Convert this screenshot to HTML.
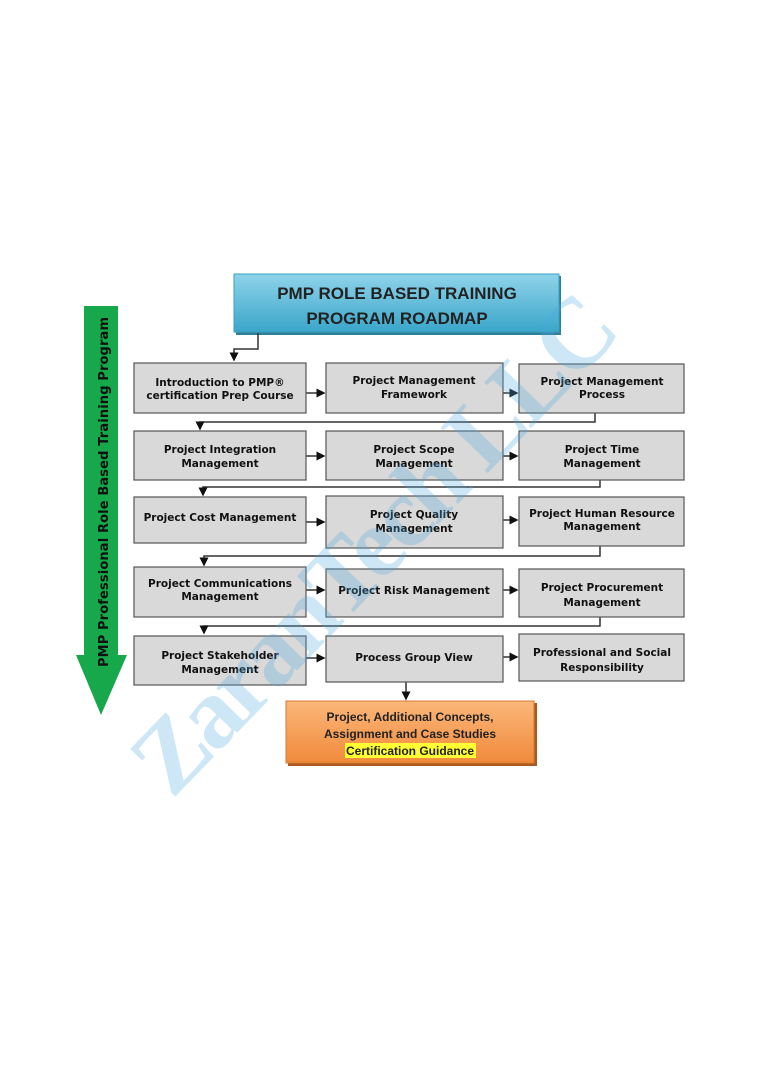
<!DOCTYPE html>
<html><head><meta charset="utf-8"><style>
body{margin:0;background:#fff;}
svg text{font-family:"DejaVu Sans","Liberation Sans",sans-serif;font-weight:bold;}
</style></head><body>
<svg width="768" height="1087" viewBox="0 0 768 1087" xmlns="http://www.w3.org/2000/svg">
<defs>
<linearGradient id="tg" x1="0" y1="0" x2="0" y2="1"><stop offset="0" stop-color="#8fd3ea"/><stop offset="1" stop-color="#3aa6c9"/></linearGradient>
<linearGradient id="og" x1="0" y1="0" x2="0" y2="1"><stop offset="0" stop-color="#fbb77b"/><stop offset="1" stop-color="#f08a3a"/></linearGradient>
<marker id="a" markerWidth="6" markerHeight="6" refX="5" refY="3" orient="auto"><path d="M0,0 L6,3 L0,6z" fill="#111"/></marker>
</defs>
<polygon points="84,306 118,306 118,655 127,655 101,715 76,655 84,655" fill="#16a84a"/>
<text transform="translate(108,667) rotate(-90)" font-size="13" fill="#111" textLength="350">PMP Professional Role Based Training Program</text>
<rect x="236" y="276" width="325" height="59" fill="#2f7f99"/>
<rect x="234" y="274" width="325" height="58" fill="url(#tg)" stroke="#3aa0c0"/>
<text x="397" y="299" font-size="17" text-anchor="middle" fill="#222" style="font-family:'Liberation Sans',sans-serif">PMP ROLE BASED TRAINING</text>
<text x="397" y="324" font-size="17" text-anchor="middle" fill="#222" style="font-family:'Liberation Sans',sans-serif">PROGRAM ROADMAP</text>
<g stroke="#333" stroke-width="1.5" fill="none">
<polyline points="258,333 258,349 234,349 234,360" marker-end="url(#a)"/>
<polyline points="595,413 595,422 200,422 200,429" marker-end="url(#a)"/>
<polyline points="600,480 600,487 203,487 203,495" marker-end="url(#a)"/>
<polyline points="600,546 600,556 204,556 204,565" marker-end="url(#a)"/>
<polyline points="600,617 600,626 204,626 204,633" marker-end="url(#a)"/>
<line x1="306" y1="393" x2="324" y2="393" marker-end="url(#a)"/>
<line x1="503" y1="393" x2="517" y2="393" marker-end="url(#a)"/>
<line x1="306" y1="456" x2="324" y2="456" marker-end="url(#a)"/>
<line x1="503" y1="456" x2="517" y2="456" marker-end="url(#a)"/>
<line x1="306" y1="522" x2="324" y2="522" marker-end="url(#a)"/>
<line x1="503" y1="520" x2="517" y2="520" marker-end="url(#a)"/>
<line x1="306" y1="590" x2="324" y2="590" marker-end="url(#a)"/>
<line x1="503" y1="590" x2="517" y2="590" marker-end="url(#a)"/>
<line x1="306" y1="658" x2="324" y2="658" marker-end="url(#a)"/>
<line x1="503" y1="657" x2="517" y2="657" marker-end="url(#a)"/>
<line x1="406" y1="682" x2="406" y2="699" marker-end="url(#a)"/>
</g>
<g fill="#d9d9d9" stroke="#555" stroke-width="1.2">
<rect x="134" y="363" width="172" height="50"/><rect x="326" y="363" width="177" height="50"/><rect x="519" y="364" width="165" height="49"/>
<rect x="134" y="431" width="172" height="49"/><rect x="326" y="431" width="177" height="49"/><rect x="519" y="431" width="165" height="49"/>
<rect x="134" y="497" width="172" height="46"/><rect x="326" y="496" width="177" height="52"/><rect x="519" y="497" width="165" height="49"/>
<rect x="134" y="567" width="172" height="50"/><rect x="326" y="569" width="177" height="48"/><rect x="519" y="569" width="165" height="48"/>
<rect x="134" y="636" width="172" height="49"/><rect x="326" y="636" width="177" height="46"/><rect x="519" y="634" width="165" height="47"/>
</g>
<g font-size="10.5" fill="#111" text-anchor="middle">
<text x="220" y="386">Introduction to PMP®</text><text x="220" y="399">certification Prep Course</text>
<text x="414" y="384">Project Management</text><text x="414" y="398">Framework</text>
<text x="602" y="385">Project Management</text><text x="602" y="398">Process</text>
<text x="220" y="453">Project Integration</text><text x="220" y="467">Management</text>
<text x="414" y="453">Project Scope</text><text x="414" y="467">Management</text>
<text x="602" y="453">Project Time</text><text x="602" y="467">Management</text>
<text x="220" y="521">Project Cost Management</text>
<text x="414" y="518">Project Quality</text><text x="414" y="532">Management</text>
<text x="602" y="517">Project Human Resource</text><text x="602" y="530">Management</text>
<text x="220" y="587">Project Communications</text><text x="220" y="600">Management</text>
<text x="414" y="594">Project Risk Management</text>
<text x="602" y="591">Project Procurement</text><text x="602" y="606">Management</text>
<text x="220" y="659">Project Stakeholder</text><text x="220" y="673">Management</text>
<text x="414" y="661">Process Group View</text>
<text x="602" y="656">Professional and Social</text><text x="602" y="671">Responsibility</text>
</g>
<rect x="288" y="703" width="249" height="63" fill="#a85a20"/>
<rect x="286" y="701" width="248" height="62" fill="url(#og)" stroke="#d87a30"/>
<rect x="345" y="743" width="131" height="15" fill="#ffff33"/>
<g font-size="12" fill="#222" text-anchor="middle">
<text x="410" y="721" style="font-family:'Liberation Sans',sans-serif">Project, Additional Concepts,</text>
<text x="410" y="738" style="font-family:'Liberation Sans',sans-serif">Assignment and Case Studies</text>
<text x="410" y="755" style="font-family:'Liberation Sans',sans-serif">Certification Guidance</text>
</g>
<text transform="translate(172,800) rotate(-46)" font-size="100" fill="#4aa8e0" fill-opacity="0.28" textLength="650" style="font-family:'Liberation Serif',serif;font-weight:bold">ZaranTech LLC</text>
</svg>
</body></html>
